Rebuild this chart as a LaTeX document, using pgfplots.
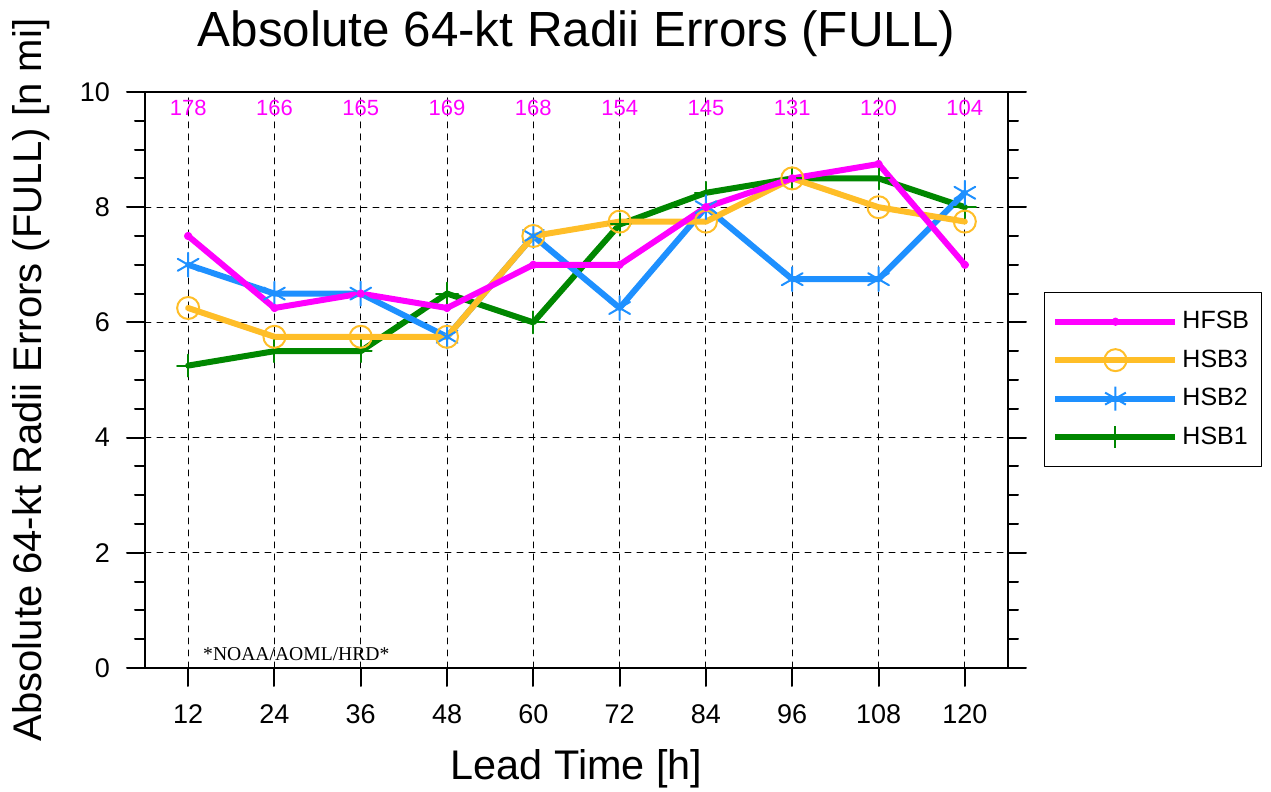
\documentclass[border=0pt]{standalone}
\usepackage{fontspec}
\setmainfont{Liberation Sans}
\newfontfamily\timesfont{Liberation Serif}
\usepackage{pgfplots}
\pgfplotsset{compat=1.18}
\definecolor{cHFSB}{RGB}{255,0,255}
\definecolor{cHSB3}{RGB}{255,190,40}
\definecolor{cHSB2}{RGB}{30,144,255}
\definecolor{cHSB1}{RGB}{0,135,0}
\begin{document}
\begin{tikzpicture}
\useasboundingbox (-72.5pt,-62pt) rectangle (563pt,334pt);
\begin{axis}[
  at={(0pt,0pt)}, anchor=south west,
  scale only axis, width=431.5pt, height=288pt,
  xmin=6, xmax=126, ymin=0, ymax=10,
  xtick={12,24,36,48,60,72,84,96,108,120},
  ytick={0,2,4,6,8,10},
  minor ytick={0.5,1,1.5,2.5,3,3.5,4.5,5,5.5,6.5,7,7.5,8.5,9,9.5},
  xtick pos=lower, ytick pos=both,
  tick align=outside,
  major tick length=9pt, minor tick length=5pt,
  every tick/.style={black, line width=1pt},
  axis line style={line width=1.2pt},
  grid=major,
  major grid style={black, line width=0.5pt, dash pattern=on 3pt off 3pt},
  /pgf/number format/assume math mode=true,
  ticklabel style={font=\fontsize{13.5}{15}\selectfont},
  xticklabel style={yshift=-6pt},
  yticklabel style={xshift=-5pt},
  title={Absolute 64-kt Radii Errors (FULL)},
  title style={font=\fontsize{24.7}{28}\selectfont, yshift=8pt},
  xlabel={Lead Time [h]},
  xlabel style={font=\fontsize{20.7}{24}\selectfont, yshift=-6pt},
  ylabel={Absolute 64-kt Radii Errors (FULL) [n mi]},
  ylabel style={font=\fontsize{20}{23}\selectfont, yshift=8pt},
  legend style={at={(1.0417,0.6528)}, anchor=north west, draw=black, line width=0.5pt,
    font=\fontsize{12.5}{14}\selectfont, row sep=5pt, inner xsep=4pt, inner ysep=7.5pt},
  legend cell align=left,
  reverse legend,
  legend image code/.code={\draw[mark repeat=2,mark phase=2] plot coordinates {(0pt,0pt) (30pt,0pt) (60pt,0pt)};},
  line cap=round, line join=round,
]
\addplot[cHSB1, line width=3pt, mark=+, mark size=5.5pt, mark options={line width=1pt, solid}] coordinates {
(12,5.25) (24,5.5) (36,5.5) (48,6.5) (60,6.0) (72,7.7) (84,8.25) (96,8.5) (108,8.5) (120,8.0)};
\addlegendentry{HSB1}
\addplot[cHSB2, line width=3pt, mark=asterisk, mark size=6pt, mark options={line width=1pt, solid}] coordinates {
(12,7.0) (24,6.5) (36,6.5) (48,5.75) (60,7.5) (72,6.25) (84,8.0) (96,6.75) (108,6.75) (120,8.25)};
\addlegendentry{HSB2}
\addplot[cHSB3, line width=3pt, mark=o, mark size=5.5pt, mark options={line width=1pt, solid}] coordinates {
(12,6.25) (24,5.75) (36,5.75) (48,5.75) (60,7.5) (72,7.75) (84,7.75) (96,8.5) (108,8.0) (120,7.75)};
\addlegendentry{HSB3}
\addplot[cHFSB, line width=3pt, mark=*, mark size=0.6pt] coordinates {
(12,7.5) (24,6.25) (36,6.5) (48,6.25) (60,7.0) (72,7.0) (84,8.0) (96,8.5) (108,8.75) (120,7.0)};
\addlegendentry{HFSB}
\addplot[forget plot, draw=none, mark=none, nodes near coords, point meta=explicit symbolic,
  every node near coord/.append style={anchor=center, text=cHFSB, font=\fontsize{11}{13}\selectfont}]
  table[meta=n] {
x y n
12 9.72 178
24 9.72 166
36 9.72 165
48 9.72 169
60 9.72 168
72 9.72 154
84 9.72 145
96 9.72 131
108 9.72 120
120 9.72 104
};
\node[anchor=west, font=\timesfont\fontsize{9.8}{11}\selectfont, inner sep=0pt] at (rel axis cs:0.067,0.024) {*NOAA/AOML/HRD*};
\end{axis}
\end{tikzpicture}
\end{document}
